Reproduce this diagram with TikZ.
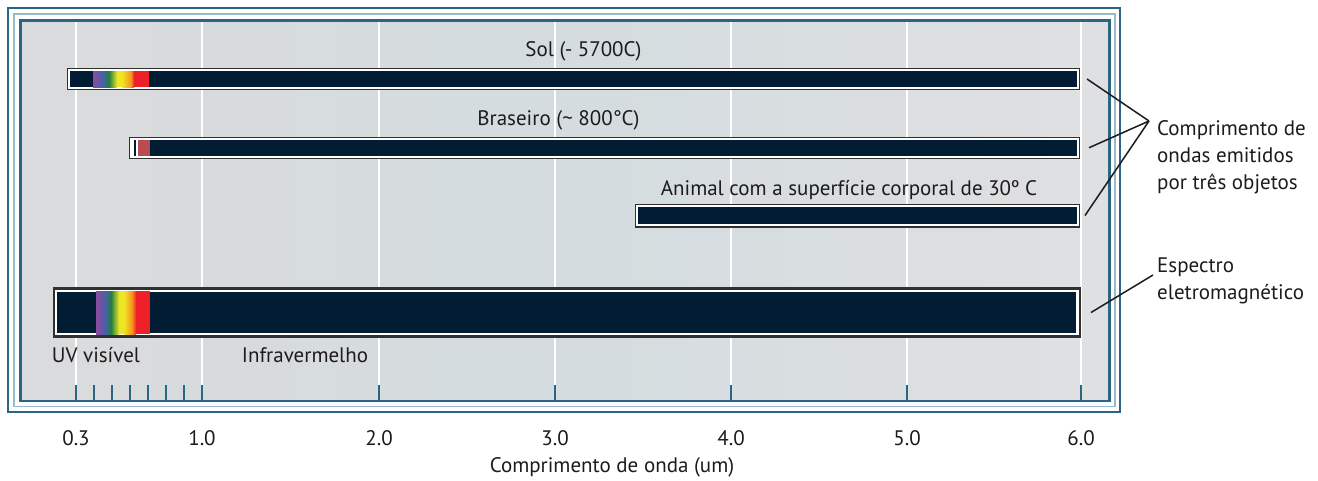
\documentclass[tikz,border=0pt]{standalone}
\usepackage{fontspec}
\setmainfont{PT Sans}
\definecolor{teal}{RGB}{42,102,132}
\definecolor{lightln}{RGB}{150,186,206}
\definecolor{navy}{RGB}{2,29,51}
\definecolor{bdr}{RGB}{48,48,48}
\definecolor{txt}{RGB}{30,27,28}
\definecolor{bgl}{RGB}{218,219,221}
\definecolor{bgm}{RGB}{212,220,223}
\definecolor{bgr}{RGB}{223,224,226}
\definecolor{cvio}{RGB}{141,75,158}
\definecolor{cblu}{RGB}{75,94,169}
\definecolor{cgrn}{RGB}{35,128,64}
\definecolor{cyel}{RGB}{238,229,36}
\definecolor{cora}{RGB}{245,146,30}
\definecolor{cred}{RGB}{238,33,40}
\definecolor{cbrn}{RGB}{184,76,80}
\newcommand{\barfill}[3]{%
  \fill[white] ([shift={(#2,#2)}]#1.north west) rectangle ([shift={(-#2,-#2)}]#1.south east);
  \fill[navy] ([shift={(#2+#3,#2+#3)}]#1.north west) rectangle ([shift={(-#2-#3,-#2-#3)}]#1.south east);
}
\begin{document}
\begin{tikzpicture}[x=1pt,y=-1pt,
  lbl/.style={font=\fontsize{21}{27}\selectfont, text=txt, inner sep=0pt},
  barnode/.style={rectangle, fill=bdr, inner sep=0pt, outer sep=0pt},
  gridln/.style={white, line width=2pt},
  tickln/.style={teal, line width=2pt},
  lead/.style={txt, line width=1.5pt}]
\useasboundingbox (0,0) rectangle (1318,480);
\fill[white] (0,0) rectangle (1318,480);
% background of plot area
\shade[left color=bgl, right color=bgr, middle color=bgm] (21,21) rectangle (1109,401);
% frame
\draw[teal, line width=2pt] (8,8) rectangle (1120,412);
\draw[lightln, line width=1.5pt] (14,14) rectangle (1115,406.5);
\draw[teal, line width=2.5pt] (20.5,20.5) rectangle (1109.5,401);
% grid lines
\foreach \gx in {76,202,379,555,731,907,1081}
  \draw[gridln] (\gx,22) -- (\gx,385);
% ticks
\foreach \gx in {76,94,112,130,148,166,184,202,379,555,731,907,1081}
  \draw[tickln] (\gx,385) -- (\gx,400);
% bars
\node[barnode, minimum width=1013pt, minimum height=22pt] (sol) at (573.5,79) {};
\barfill{sol}{1.4}{1.7}
\node[barnode, minimum width=951.5pt, minimum height=22.5pt] (bras) at (604.25,147.75) {};
\barfill{bras}{1.4}{1.7}
\node[barnode, minimum width=445pt, minimum height=24pt] (anim) at (857.5,215.5) {};
\barfill{anim}{1.4}{1.7}
\node[barnode, minimum width=1028.5pt, minimum height=50.4pt] (espec) at (566.75,312.5) {};
\barfill{espec}{2.4}{2.2}
% Sol spectrum
\shade[left color=cvio, right color=cblu] (93,71) rectangle (102.2,87);
\shade[left color=cblu, right color=cgrn] (102,71) rectangle (109.2,87);
\shade[left color=cgrn, right color=cyel] (109,71) rectangle (117.2,87);
\fill[cyel] (117,71) rectangle (122.2,87);
\shade[left color=cyel, right color=cora] (122,71) rectangle (131.2,87);
\shade[left color=cora, right color=cred] (131,71) rectangle (134.2,87);
\fill[cred] (134,71) rectangle (149,87);
% Braseiro
\fill[white] (131.5,139.75) rectangle (137.7,155.75);
\fill[navy] (134,139.75) rectangle (135.6,155.75);
\fill[cbrn] (137.7,139.75) rectangle (150,155.75);
% Electromagnetic spectrum
\shade[left color=cvio, right color=cblu] (96,291) rectangle (105.2,334);
\shade[left color=cblu, right color=cgrn] (105,291) rectangle (111.2,334);
\shade[left color=cgrn, right color=cyel] (111,291) rectangle (119.2,334);
\fill[cyel] (119,291) rectangle (124.2,334);
\shade[left color=cyel, right color=cora] (124,291) rectangle (132.2,334);
\shade[left color=cora, right color=cred] (132,291) rectangle (136.2,334);
\fill[cred] (136,291) rectangle (150,334);
% labels
\node[lbl] (tsol) at (583.5,51) {Sol (- 5700C)};
\node[lbl] (tbras) at (558.5,120) {Braseiro (\textasciitilde{} 800°C)};
\node[lbl] (tanim) at (849,190) {Animal com a superfície corporal de 30º C};
\node[lbl] (tuv) at (96,355) {UV visível};
\node[lbl] (tir) at (305,355) {Infravermelho};
\foreach \gx/\lab [count=\i] in {76/0.3,202/1.0,379/2.0,555/3.0,731/4.0,907/5.0,1081/6.0}
  \node[lbl] (ax\i) at (\gx,438) {\lab};
\node[lbl] (axt) at (612,467) {Comprimento de onda (um)};
\node[lbl, anchor=west, align=left] (tcomp) at (1157,157) {Comprimento de\\ondas emitidos\\por três objetos};
\node[lbl, anchor=west, align=left] (tesp) at (1157,281) {Espectro\\eletromagnético};
% leaders
\coordinate (j1) at (1149,121);
\coordinate (j2) at (1153,275);
\draw[lead] ([xshift=7pt]sol.east) -- (j1);
\draw[lead] ([xshift=9pt]bras.east) -- (j1);
\draw[lead] ([xshift=5pt]anim.east) -- (j1);
\draw[lead] ([xshift=10pt]espec.east) -- (j2);
\end{tikzpicture}
\end{document}
